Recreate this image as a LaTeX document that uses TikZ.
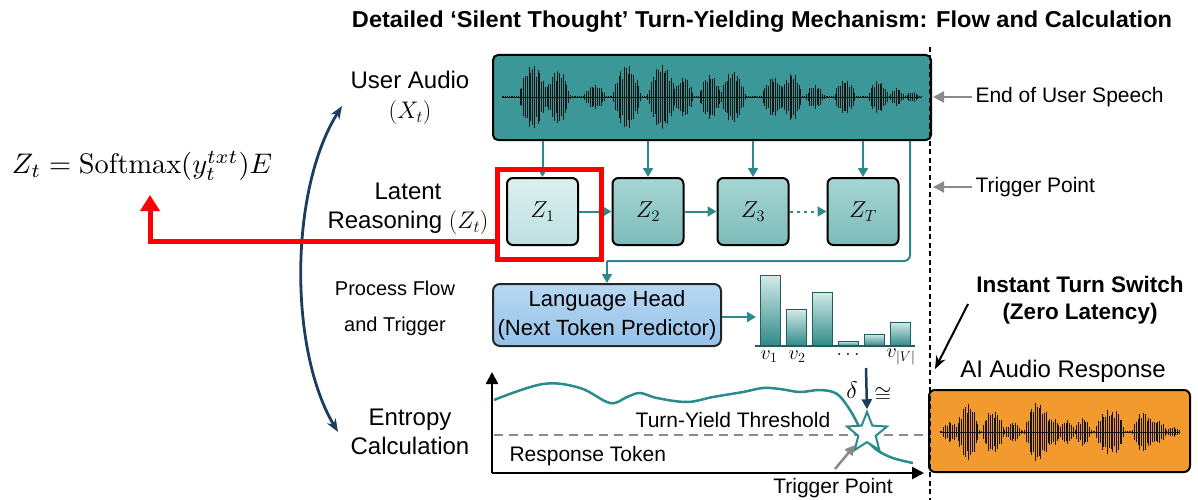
\RequirePackage{fix-cm}
\documentclass[tikz,border=0pt]{standalone}
\usepackage{fontspec}
\usepackage{graphicx}
\usetikzlibrary{arrows.meta,shapes.geometric,calc}
\newfontfamily\sans{Liberation Sans}
\definecolor{audioteal}{HTML}{3C9898}
\definecolor{tealline}{HTML}{2B8A8C}
\definecolor{zlightT}{HTML}{DDF0F0}
\definecolor{zlightB}{HTML}{BDDFDF}
\definecolor{zmidT}{HTML}{A6D5D3}
\definecolor{zmidB}{HTML}{7DBCBA}
\definecolor{lhblueT}{HTML}{B8D8F2}
\definecolor{lhblueB}{HTML}{95C2E8}
\definecolor{orangeA}{HTML}{F29A2E}
\definecolor{navyA}{HTML}{1C3D5E}
\definecolor{grayA}{HTML}{8A8A8A}
\definecolor{barlight}{HTML}{D3EBE8}
\definecolor{bardark}{HTML}{2E8A88}
\definecolor{waveA}{HTML}{151515}
\begin{document}
\begin{tikzpicture}[x=1pt,y=-1pt,
  lblL/.style={font=\sans\fontsize{24}{29}\selectfont, align=center},
  lblM/.style={font=\sans\fontsize{21}{25}\selectfont, align=center},
  tealarrow/.style={draw=tealline, line width=2pt, -{Triangle[length=9pt,width=10pt]}},
  tealplain/.style={draw=tealline, line width=2pt},
  zbox/.style={draw=black, line width=2pt, rounded corners=6pt, minimum width=71pt, minimum height=67pt, font=\fontsize{23}{27}\selectfont},
  grayarrow/.style={draw=grayA, line width=2.2pt, -{Triangle[length=11pt,width=11pt]}},
  wave/.style={draw=waveA, line width=0.85pt},
  vlab/.style={font=\fontsize{20}{24}\selectfont, inner sep=0.5pt},
  declare function={
    bmp(\x,\c,\w)=max(0,1-((\x-\c)/\w)*((\x-\c)/\w));
    envA(\x)=32*bmp(\x,533,15)+27*bmp(\x,558,13)+12*bmp(\x,595,12)+32*bmp(\x,627,15)+32*bmp(\x,662,15)+20*bmp(\x,684,10)+22*bmp(\x,710,12)+26*bmp(\x,733,13)+20*bmp(\x,773,12)+24*bmp(\x,792,11)+12*bmp(\x,815,10)+17*bmp(\x,845,12)+16*bmp(\x,878,11)+9*bmp(\x,897,8)+5*bmp(\x,912,8);
    envB(\x)=10*bmp(\x,950,9)+28*bmp(\x,968,12)+22*bmp(\x,993,12)+10*bmp(\x,1013,9)+30*bmp(\x,1037,13)+14*bmp(\x,1053,9)+12*bmp(\x,1067,8)+14*bmp(\x,1083,9)+18*bmp(\x,1103,8)+22*bmp(\x,1115,10)+20*bmp(\x,1143,11)+12*bmp(\x,1158,9)+5*bmp(\x,1173,8);
    carr(\i)=0.62+0.38*abs(sin(mod(\i,37)*114));
  }]
\useasboundingbox (0,0) rectangle (1198,500);
\fill[white] (0,0) rectangle (1198,500);

% title
\node[font=\sans\bfseries\fontsize{23}{27}\selectfont] (title) at (762,22)
  {\resizebox{820pt}{\height}{Detailed ‘Silent Thought’ Turn-Yielding Mechanism: Flow and Calculation}};

% formula
\node (formula) at (142,166) {\resizebox{260pt}{!}{$Z_t = \mathrm{Softmax}(y_t^{txt})E$}};

% left labels
\node[lblL] (ua-l) at (410,98) {User Audio\\[1pt]$(X_t)$};
\node[lblL] (lr-l) at (408,209) {Latent\\Reasoning $(Z_t)$};
\node[font=\sans\fontsize{20}{36}\selectfont, align=center] (pf-l) at (395,308) {Process Flow\\and Trigger};
\node[lblL] (ec-l) at (410,432) {Entropy\\Calculation};

% curved double arrow
\coordinate (ca1) at (342,106);
\coordinate (ca2) at (338,432);
\draw[navyA, line width=2.8pt, {Stealth[length=13pt,width=10pt]}-{Stealth[length=13pt,width=10pt]}]
  (ca1) .. controls (289,190) and (289,350) .. (ca2);

% user audio box
\node[draw=black, line width=2pt, rounded corners=5pt, fill=audioteal, minimum width=438pt, minimum height=85pt] (ua) at (712,97.5) {};
\draw[waveA, line width=0.6pt] (502,97) -- (922,97);
\foreach \i in {0,...,233} {
  \pgfmathsetmacro\xx{502+\i*1.8}
  \pgfmathsetmacro\hh{max(0.8,envA(\xx)*carr(\i))}
  \draw[wave] (\xx,97-\hh) -- (\xx,97+\hh);
}

% Z boxes
\node[zbox, top color=zlightT, bottom color=zlightB] (z1) at (542.5,211.5) {$Z_1$};
\node[zbox, top color=zmidT, bottom color=zmidB] (z2) at (648,211.5) {$Z_2$};
\node[zbox, top color=zmidT, bottom color=zmidB] (z3) at (753,211.5) {$Z_3$};
\node[zbox, top color=zmidT, bottom color=zmidB] (zT) at (863,211.5) {$Z_T$};

\foreach \z in {z1,z2,z3,zT} {
  \draw[tealarrow] (\z.north |- ua.south) -- (\z.north);
}
\draw[tealarrow] (z1) -- (z2);
\draw[tealarrow] (z2) -- (z3);
\draw[tealarrow, dash pattern=on 3pt off 4pt] (z3) -- (zT);

% language head
\node[draw=black!85, line width=2pt, rounded corners=7pt, top color=lhblueT, bottom color=lhblueB, minimum width=228pt, minimum height=62pt,
  font=\sans\fontsize{22}{29}\selectfont, align=center] (lh) at (607,315) {Language Head\\(Next Token Predictor)};

% feedback line
\coordinate (fbx) at (910,0);
\coordinate (fby) at (0,261);
\draw[tealplain, rounded corners=6pt] (ua.south -| fbx) -- (fbx |- fby) -- (lh.north |- fby);
\draw[tealarrow] (lh.north |- fby) -- (lh.north);

% bar chart
\coordinate (chartL) at (756,317);
\draw[tealarrow, line width=2.5pt] (lh.east |- chartL) -- (chartL);
\foreach \xl/\tp in {760/275, 786/309, 812/292, 838/341, 864/334, 890/322} {
  \shade[top color=barlight, bottom color=bardark, draw=bardark!70!black, line width=0.8pt] (\xl,346) rectangle (\xl+20,\tp);
}
\draw[bardark!70!black, line width=1.5pt] (755,346) -- (915,346);
\node[vlab] (v1) at (769,357) {$v_1$};
\node[vlab] (v2) at (797,357) {$v_2$};
\node[vlab] (vd) at (848,355) {$\ldots$};
\node[vlab] (vV) at (901,357) {$v_{|V|}$};

% entropy plot
\coordinate (O) at (492,473);
\coordinate (xe) at (924,473);
\coordinate (ye) at (492,372);
\draw[black, line width=2.5pt, -{Triangle[length=12pt,width=12pt]}] (O) -- (xe);
\draw[black, line width=2.5pt, -{Triangle[length=12pt,width=12pt]}] (O) -- (ye);
\coordinate (th1) at (494,435);
\coordinate (th2) at (923,435);
\draw[grayA, line width=1.8pt, dash pattern=on 9pt off 6pt] (th1) -- (th2);
\draw[tealline, line width=2.5pt] plot[smooth, tension=0.6] coordinates {(494,400) (543,384) (580,388) (610,403) (627,397) (640,393) (657,398) (687,402) (713,397) (743,392) (763,388) (780,389) (800,392) (820,390) (837,394) (850,410) (860,428) (872,446) (890,457) (913,463)};
\node[star, star points=5, star point ratio=2.3, draw=tealline, fill=white, line width=2pt, minimum size=42pt, inner sep=0pt] (star) at (867,433) {};
\node[lblM] (tyt) at (733,420) {Turn-Yield Threshold};
\node[lblM, anchor=west] (rt) at (506,456) {Response Token};
\node[lblM] (tpb) at (833,488) {Trigger Point};
\coordinate (ga) at (835,469);
\draw[grayA, line width=2.5pt, -{Triangle[length=10pt,width=10pt]}] (ga) -- (star.south west);

% delta arrow
\coordinate (dtop) at (866,368);
\draw[navyA, line width=2.5pt, -{Triangle[length=10pt,width=10pt]}] (dtop) -- (star.north);
\node[font=\fontsize{24}{28}\selectfont, inner sep=0.5pt] (delta) at (852,390) {$\delta$};
\node[font=\fontsize{22}{26}\selectfont, inner sep=0.5pt] (cong) at (883,395) {$\cong$};

% separator
\coordinate (sep1) at (930,47);
\coordinate (sep2) at (930,500);

% AI audio response
\node[draw=black, line width=2pt, rounded corners=6pt, fill=orangeA, minimum width=261pt, minimum height=82pt] (ai) at (1059.5,431) {};
\draw[waveA, line width=0.6pt] (940,432) -- (1180,432);
\foreach \i in {0,...,133} {
  \pgfmathsetmacro\xx{940+\i*1.8}
  \pgfmathsetmacro\hh{max(0.8,envB(\xx)*carr(\i+7))}
  \draw[wave] (\xx,432-\hh) -- (\xx,432+\hh);
}
\draw[black, line width=2.5pt, dash pattern=on 5pt off 3.5pt] (sep1) -- (sep2);

% right labels
\node[lblM, anchor=west] (eus) at (972,97) {End of User Speech};
\coordinate (eusT) at (933,97);
\draw[grayarrow] (eus.west) -- (eusT);
\node[lblM, anchor=west] (tp) at (972,187) {Trigger Point};
\coordinate (tpT) at (933,187);
\draw[grayarrow] (tp.west) -- (tpT);

\node[font=\sans\bfseries\fontsize{22.5}{27}\selectfont, align=center] (its) at (1080,300) {Instant Turn Switch\\(Zero Latency)};
\coordinate (itsA) at (968,304);
\coordinate (itsB) at (935,369);
\draw[black, line width=2pt, -{Stealth[length=13pt,width=10pt]}] (itsA) -- (itsB);
\node[lblL] (air) at (1063,371) {AI Audio Response};

% red highlight
\node[draw=red, line width=5pt, minimum width=104pt, minimum height=90pt] (hl) at (549,214) {};
\coordinate (rc) at (150,241);
\coordinate (ftip) at (150,195);
\draw[red, line width=5pt, -{Triangle[length=16pt,width=19pt]}] (hl.west |- rc) -- (rc) -- (ftip);
\end{tikzpicture}
\end{document}
